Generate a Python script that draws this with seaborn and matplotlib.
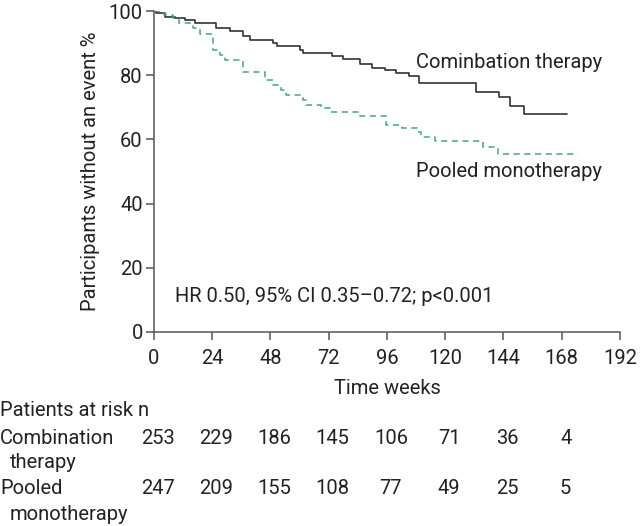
import matplotlib
matplotlib.use("Agg")
import matplotlib.pyplot as plt
import matplotlib.transforms as mtransforms
import seaborn as sns
import pandas as pd

# Kaplan-Meier steps (weeks, % without event)
comb_weeks = [0, 1, 4.5, 8.7, 12.8, 16.9, 25.5, 31.3, 36.8, 39.6, 49.2, 50.5, 60, 61.5,
              73.2, 78, 84.9, 89.7, 95.1, 99.9, 105.1, 109.2, 132.9, 142.2, 146.9, 152.4, 170]
comb_pct = [100, 99.3, 98.2, 97.7, 97.2, 96.4, 94.6, 93.9, 92.2, 91.1, 89.9, 89.1, 87.8, 87.0,
            85.9, 84.9, 83.6, 82.3, 81.5, 80.8, 79.7, 77.6, 74.8, 73.1, 70.4, 67.9, 67.9]

pool_weeks = [0, 2, 4.3, 7.8, 10.5, 16, 18.8, 24.3, 27, 29.1, 36.6, 45.6, 49, 52.5, 54.5,
              61.4, 62.8, 69, 73.1, 84.8, 95.8, 102, 108.2, 110.2, 116, 135.6, 141.8, 174.8]
pool_pct = [100, 99.5, 98.8, 97.7, 96.4, 94.6, 93.0, 87.8, 86.3, 84.7, 81.1, 78.5, 76.9, 75.4,
            73.8, 72.2, 70.7, 69.7, 68.6, 67.3, 64.5, 63.4, 62.4, 60.8, 59.6, 57.7, 55.6, 55.6]

risk_weeks = [0, 24, 48, 72, 96, 120, 144, 168]
risk_comb = [253, 229, 186, 145, 106, 71, 36, 4]
risk_pool = [247, 209, 155, 108, 77, 49, 25, 5]

sns.set_style("ticks")
plt.rcParams["font.family"] = ["Roboto", "DejaVu Sans"]
fs = 14.5
tc = "#222222"

fig = plt.figure(figsize=(6.4, 5.26), dpi=100)
ax = fig.add_axes([0.2406, 0.369, 0.728, 0.610])

comb = pd.DataFrame({"week": comb_weeks, "pct": comb_pct})
pool = pd.DataFrame({"week": pool_weeks, "pct": pool_pct})

sns.lineplot(data=comb, x="week", y="pct", drawstyle="steps-post", color="#333333",
             linewidth=1.2, ax=ax)
sns.lineplot(data=pool, x="week", y="pct", drawstyle="steps-post", color="#44a386",
             linewidth=1.1, ax=ax)
ax.lines[-1].set_linestyle((0, (4, 3)))

ax.set_xlim(0, 192)
ax.set_ylim(0, 100)
ax.set_xticks(range(0, 193, 24))
ax.set_yticks(range(0, 101, 20))
sns.despine(ax=ax)
for s in ("left", "bottom"):
    ax.spines[s].set_color("#555555")
    ax.spines[s].set_linewidth(1.1)
ax.tick_params(direction="out", length=6, width=1.1, colors="#555555", labelsize=fs,
               labelcolor=tc, pad=2)
ax.tick_params(axis="x", pad=6)
ax.set_xlabel("Time weeks", fontsize=fs, color=tc, labelpad=8)
ax.set_ylabel("Participants without an event %", fontsize=fs, color=tc, labelpad=6)

ax.text(108, 84, "Cominbation therapy", fontsize=fs, color=tc, va="center")
ax.text(108, 50, "Pooled monotherapy", fontsize=fs, color=tc, va="center")
ax.text(8.5, 11, "HR 0.50, 95% CI 0.35\u20130.72; p<0.001", fontsize=fs, color=tc,
        va="center")

# numbers at risk
def fy(py):
    return 1 - py / 526

fig.text(0.0, fy(411), "Patients at risk n", fontsize=fs, color=tc, va="center")
fig.text(0.0, fy(438), "Combination", fontsize=fs, color=tc, va="center")
fig.text(10 / 640, fy(462), "therapy", fontsize=fs, color=tc, va="center")
fig.text(0.0, fy(489), "Pooled", fontsize=fs, color=tc, va="center")
fig.text(10 / 640, fy(514), "monotherapy", fontsize=fs, color=tc, va="center")

trans = mtransforms.blended_transform_factory(ax.transData, fig.transFigure)
trans = trans + mtransforms.ScaledTranslation(4 / 100, 0, fig.dpi_scale_trans)
for w, c, p in zip(risk_weeks, risk_comb, risk_pool):
    ax.text(w, fy(438), str(c), transform=trans, fontsize=fs, color=tc,
            ha="center", va="center", clip_on=False)
    ax.text(w, fy(489), str(p), transform=trans, fontsize=fs, color=tc,
            ha="center", va="center", clip_on=False)

fig.savefig("out.png", dpi=100)
